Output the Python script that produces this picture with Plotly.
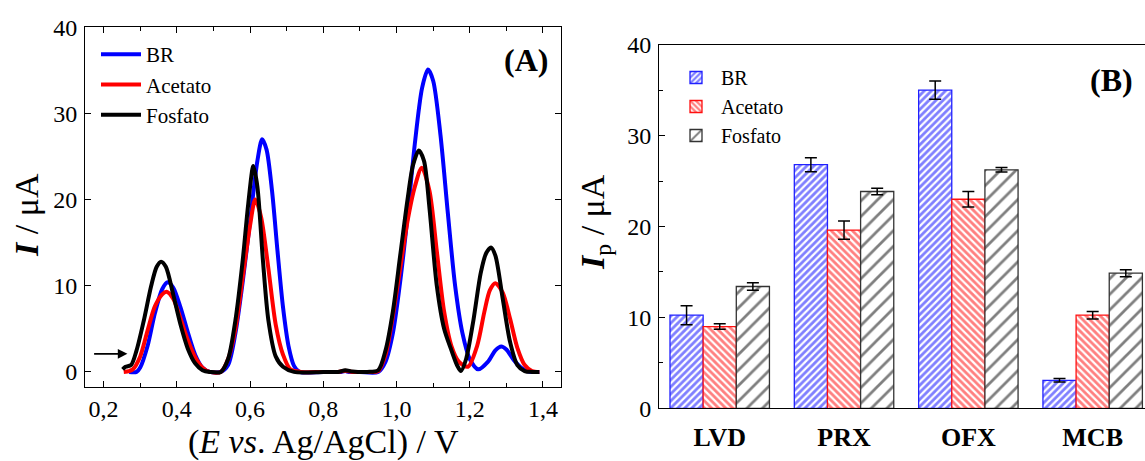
import plotly.graph_objects as go

# ---- Panel A data (DPV voltammograms) ----
e_br = [0.27, 0.29, 0.30, 0.32, 0.34, 0.36, 0.375, 0.39, 0.41, 0.43, 0.45, 0.47, 0.49, 0.52, 0.54, 0.56, 0.58, 0.60, 0.62, 0.633, 0.645, 0.66, 0.675, 0.69, 0.705, 0.72, 0.735, 0.80, 0.85, 0.86, 0.87, 0.90, 0.95, 0.97, 0.99, 1.01, 1.03, 1.05, 1.07, 1.086, 1.10, 1.12, 1.14, 1.16, 1.18, 1.20, 1.223, 1.25, 1.27, 1.286, 1.30, 1.32, 1.34, 1.36, 1.39]
i_br = [0, 0, 0.5, 3.0, 6.8, 9.6, 10.4, 9.8, 7.5, 4.6, 2.0, 0.5, 0, 0, 0.8, 4.5, 10.5, 17.5, 24.5, 27.0, 25.8, 21.0, 14.0, 7.5, 3.0, 0.7, 0, 0, 0, 0.1, 0, 0, 0, 1.2, 4.5, 10.5, 18.0, 26.5, 33.0, 35.1, 33.8, 27.5, 18.5, 10.0, 4.5, 1.5, 0.3, 1.2, 2.5, 2.95, 2.6, 1.4, 0.5, 0.05, 0]

e_ac = [0.255, 0.27, 0.28, 0.30, 0.32, 0.34, 0.36, 0.372, 0.39, 0.41, 0.43, 0.45, 0.47, 0.49, 0.52, 0.54, 0.56, 0.58, 0.60, 0.614, 0.63, 0.65, 0.67, 0.69, 0.71, 0.74, 0.80, 0.84, 0.86, 0.88, 0.92, 0.95, 0.97, 0.99, 1.01, 1.03, 1.05, 1.069, 1.09, 1.11, 1.13, 1.15, 1.17, 1.195, 1.22, 1.24, 1.255, 1.27, 1.29, 1.31, 1.33, 1.35, 1.37, 1.39]
i_ac = [0, 0.1, 0.3, 1.8, 4.8, 7.6, 9.0, 9.3, 8.5, 6.2, 3.7, 1.7, 0.5, 0, 0, 1.5, 5.0, 11.0, 17.0, 20.0, 18.0, 12.0, 5.5, 2.0, 0.3, 0, 0, 0, 0.15, 0, 0, 0.1, 2.0, 6.5, 12.0, 17.5, 21.5, 23.7, 21.0, 14.0, 7.0, 3.0, 1.2, 0.6, 3.0, 7.0, 9.5, 10.3, 9.2, 6.2, 2.8, 0.8, 0.1, 0]

e_fo = [0.252, 0.26, 0.275, 0.29, 0.31, 0.33, 0.345, 0.357, 0.37, 0.39, 0.41, 0.43, 0.45, 0.47, 0.49, 0.52, 0.54, 0.56, 0.58, 0.595, 0.609, 0.62, 0.635, 0.65, 0.67, 0.69, 0.72, 0.80, 0.84, 0.86, 0.88, 0.92, 0.95, 0.97, 0.99, 1.01, 1.03, 1.045, 1.061, 1.075, 1.09, 1.11, 1.13, 1.15, 1.165, 1.176, 1.19, 1.21, 1.23, 1.245, 1.258, 1.27, 1.29, 1.31, 1.33, 1.35, 1.37, 1.39]
i_fo = [0.3, 0.6, 0.8, 2.5, 6.0, 10.0, 12.2, 12.8, 12.2, 9.0, 5.5, 2.7, 1.0, 0.2, 0, 0, 1.5, 6.0, 13.0, 19.5, 23.9, 21.5, 13.0, 6.0, 1.8, 0.6, 0, 0, 0, 0.2, 0.05, 0, 0.2, 2.5, 7.0, 13.5, 20.0, 24.0, 25.7, 24.5, 19.0, 10.0, 5.0, 2.5, 0.8, 0.1, 1.5, 6.0, 11.5, 13.8, 14.45, 13.5, 8.5, 3.5, 0.8, 0.1, 0, 0]

# ---- Panel B data (peak currents) ----
drugs = ["LVD", "PRX", "OFX", "MCB"]
ip_br = [10.24, 26.8, 35.0, 3.08]
err_br = [1.05, 0.77, 1.0, 0.2]
ip_ac = [8.99, 19.6, 23.0, 10.24]
err_ac = [0.3, 1.0, 0.86, 0.42]
ip_fo = [13.4, 23.85, 26.24, 14.86]
err_fo = [0.4, 0.35, 0.25, 0.38]

FONT = "Liberation Serif, Times New Roman, serif"
W, H = 1145, 461

def px_x(p):
    return p / W

def px_y(p):
    return 1 - p / H

fig = go.Figure()

line_w = 4
for x, y, name, col in [(e_br, i_br, "BR", "#0000ff"), (e_ac, i_ac, "Acetato", "#ff0000"), (e_fo, i_fo, "Fosfato", "#000000")]:
    fig.add_trace(go.Scatter(x=x, y=y, mode="lines", name=name,
                             line=dict(color=col, width=line_w, shape="spline", smoothing=0.8),
                             xaxis="x", yaxis="y", legend="legend"))

pos = [1, 2, 3, 4]
bar_specs = [
    (ip_br, err_br, "BR", "#0000ff", "/", 5, 0.55, "#2020ff"),
    (ip_ac, err_ac, "Acetato", "#ff0000", "\\", 5, 0.55, "#ff1010"),
    (ip_fo, err_fo, "Fosfato", "#000000", "/", 11, 0.25, "#333333"),
]
for vals, errs, name, col, shp, sz, sol, lc in bar_specs:
    fig.add_trace(go.Bar(x=pos, y=vals, name=name,
                         marker=dict(color="white", line=dict(color=lc, width=1.3),
                                     pattern=dict(shape=shp, fgcolor=col, bgcolor="white", size=sz, solidity=sol, fillmode="overlay")),
                         error_y=dict(type="data", array=errs, color="black", thickness=1.5, width=6),
                         xaxis="x2", yaxis="y2", legend="legend2"))

axis_common = dict(showline=True, linecolor="black", linewidth=1.3, ticks="inside",
                   tickcolor="black", ticklen=6, tickwidth=1.2, showgrid=False, zeroline=False,
                   automargin=False,
                   tickfont=dict(family=FONT, size=24, color="black"))

fig.update_layout(
    width=W, height=H,
    margin=dict(l=0, r=0, t=0, b=0, pad=0, autoexpand=False),
    paper_bgcolor="white", plot_bgcolor="white",
    separators=", ",
    barmode="group", bargap=0.2, bargroupgap=0,
    xaxis=dict(axis_common, domain=[px_x(85.3), px_x(561.3)], range=[0.15, 1.45], anchor="y",
               dtick=0.2, tick0=0.2, tickformat=".1f", mirror="ticks",
               minor=dict(dtick=0.1, ticks="inside", ticklen=4, tickcolor="black")),
    yaxis=dict(axis_common, domain=[px_y(387), px_y(27.3)], range=[-1.75, 40], anchor="x",
               dtick=10, mirror="ticks", ticklabelstandoff=2),
    xaxis2=dict(axis_common, domain=[px_x(659.3), 1.0], range=[0.514, 4.421], anchor="y2",
                tickvals=pos, ticktext=drugs, ticks="", mirror=True,
                tickfont=dict(family=FONT, size=26, color="black", weight="bold"),
                ticklabelstandoff=5),
    yaxis2=dict(axis_common, domain=[px_y(408.3), px_y(44.7)], range=[0, 40], anchor="x2",
                dtick=10, mirror=False, ticklabelstandoff=2,
                minor=dict(dtick=5, ticks="inside", ticklen=4, tickcolor="black")),
    legend=dict(x=px_x(96), y=px_y(34), xanchor="left", yanchor="top",
                font=dict(family=FONT, size=21, color="black"), bgcolor="rgba(0,0,0,0)",
                itemwidth=40),
    legend2=dict(x=px_x(671), y=px_y(58), xanchor="left", yanchor="top",
                 font=dict(family=FONT, size=20, color="black"), bgcolor="rgba(0,0,0,0)",
                 itemwidth=40),
    showlegend=True,
)

annotations = [
    dict(text="<b>(A)</b>", x=px_x(550), y=px_y(60), xref="paper", yref="paper",
         xanchor="right", yanchor="middle", showarrow=False, font=dict(family=FONT, size=32, color="black")),
    dict(text="<b>(B)</b>", x=px_x(1088), y=px_y(80), xref="paper", yref="paper",
         xanchor="left", yanchor="middle", showarrow=False, font=dict(family=FONT, size=32, color="black")),
    dict(text="<b><i>I</i></b> / μA", x=px_x(27), y=px_y(215), xref="paper", yref="paper",
         textangle=-90, xanchor="center", yanchor="middle", showarrow=False,
         font=dict(family=FONT, size=34, color="black")),
    dict(text="<b><i>I</i></b><sub>p</sub> / μA", x=px_x(595), y=px_y(222), xref="paper", yref="paper",
         textangle=-90, xanchor="center", yanchor="middle", showarrow=False,
         font=dict(family=FONT, size=34, color="black")),
    dict(text="(<i>E vs</i>. Ag/AgCl) / V", x=px_x(323), y=px_y(442), xref="paper", yref="paper",
         xanchor="center", yanchor="middle", showarrow=False,
         font=dict(family=FONT, size=34, color="black")),
    dict(text="", x=0.265, y=2.1, ax=0.17, ay=2.1, xref="x", yref="y", axref="x", ayref="y",
         showarrow=True, arrowhead=2, arrowsize=1.2, arrowwidth=1.6, arrowcolor="black"),
]
fig.update_layout(annotations=annotations)

fig.write_html("out.html", config={"displayModeBar": False},
               post_script="document.body.style.margin='0';")
